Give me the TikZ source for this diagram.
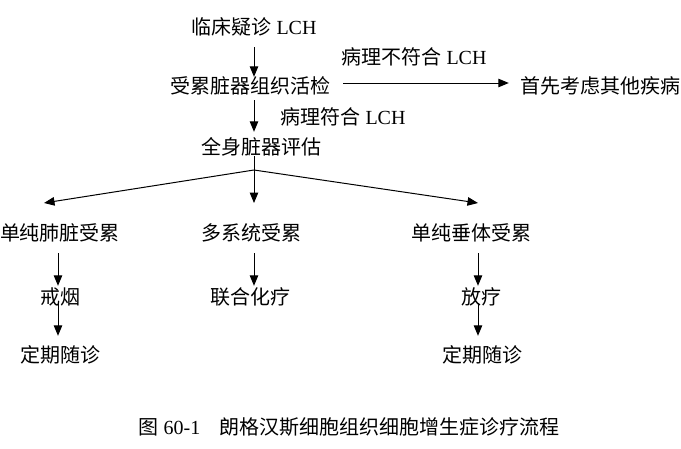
\documentclass[tikz,border=0pt]{standalone}
\usepackage{fontspec}
\setmainfont{Liberation Serif}
\newfontfamily\cjk{Noto Sans CJK SC}
\usetikzlibrary{arrows.meta}
\tikzset{
  txt/.style={inner sep=0pt, font=\fontsize{20}{24}\selectfont, text height=16.5pt, text depth=1.5pt},
  line/.style={line width=1pt, draw=black},
  arr/.style={line width=1pt, draw=black, -{Triangle[length=10.5pt,width=8.5pt]}},
}
\begin{document}
\begin{tikzpicture}[x=1pt,y=-1pt]
\useasboundingbox (0,0) rectangle (681,448);
% arrow columns
\coordinate (xa) at (254,0);
\coordinate (xl) at (58,0);
\coordinate (xr) at (478,0);
% nodes
\node[txt] (top) at (254,27) {{\cjk 临床疑诊} LCH};
\node[txt] (bio) at (250,86) {\cjk 受累脏器组织活检};
\node[txt] (oth) at (600,86) {\cjk 首先考虑其他疾病};
\node[txt] (lab1) at (414,57) {{\cjk 病理不符合} LCH};
\node[txt] (lab2) at (343,117) {{\cjk 病理符合} LCH};
\node[txt] (all) at (261,147) {\cjk 全身脏器评估};
\node[txt] (l1) at (60,233) {\cjk 单纯肺脏受累};
\node[txt] (m1) at (251,233) {\cjk 多系统受累};
\node[txt] (r1) at (471,233) {\cjk 单纯垂体受累};
\node[txt] (l2) at (60,297) {\cjk 戒烟};
\node[txt] (m2) at (250,297) {\cjk 联合化疗};
\node[txt] (r2) at (481,297) {\cjk 放疗};
\node[txt] (l3) at (60,355) {\cjk 定期随诊};
\node[txt] (r3) at (482,355) {\cjk 定期随诊};
\node[txt] (cap) at (349,427) {{\cjk 图} 60-1\hspace{19pt}{\cjk 朗格汉斯细胞组织细胞增生症诊疗流程}};
% branch points
\coordinate (apex) at (254,170);
\coordinate (bl) at (44,203);
\coordinate (bm) at (254,203);
\coordinate (br) at (478,203);
% connectors
\draw[arr, shorten <=11pt] (top.south -| xa) -- (bio.north -| xa);
\draw[arr, shorten <=13pt, shorten >=11pt] ([yshift=3pt]bio.east) -- ([yshift=3pt]bio.east -| oth.west);
\draw[arr, shorten <=5pt, shorten >=6pt] (bio.south -| xa) -- (all.north -| xa);
\draw[line] (all.south -| xa) -- (apex);
\draw[arr] (apex) -- (bl);
\draw[arr] (apex) -- (bm);
\draw[arr] (apex) -- (br);
\draw[arr, shorten <=11pt, shorten >=2pt] (l1.south -| xl) -- (l2.north -| xl);
\draw[arr, shorten <=11pt, shorten >=2pt] (m1.south -| xa) -- (m2.north -| xa);
\draw[arr, shorten <=11pt, shorten >=2pt] (r1.south -| xr) -- (r2.north -| xr);
\draw[arr, shorten <=-3pt, shorten >=10pt] (l2.south -| xl) -- (l3.north -| xl);
\draw[arr, shorten <=-3pt, shorten >=10pt] (r2.south -| xr) -- (r3.north -| xr);
\end{tikzpicture}
\end{document}
